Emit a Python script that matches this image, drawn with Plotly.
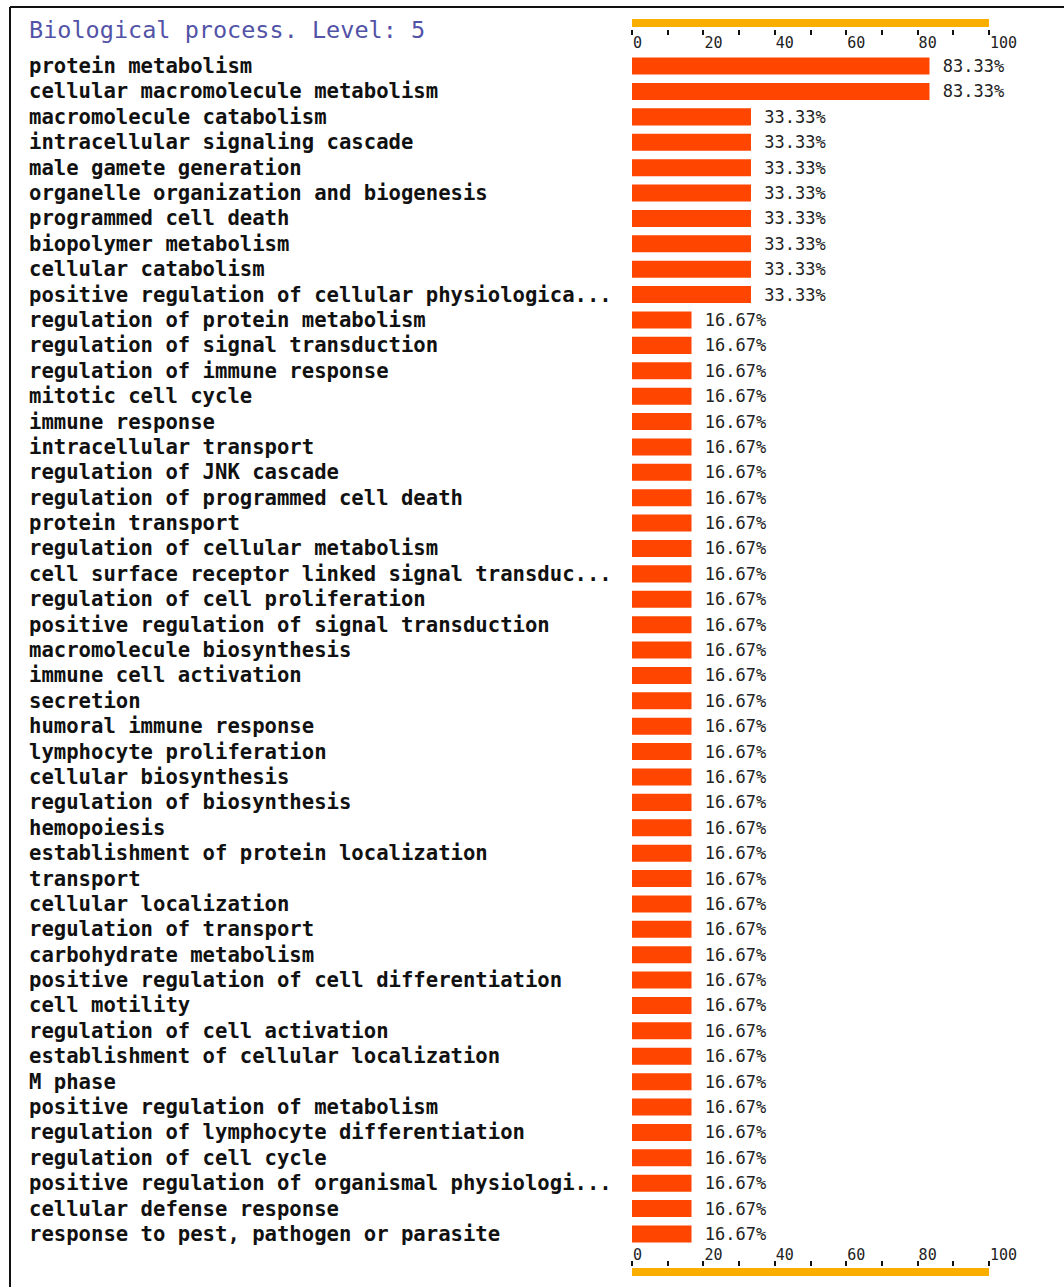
import plotly.graph_objects as go

categories = [
    "protein metabolism",
    "cellular macromolecule metabolism",
    "macromolecule catabolism",
    "intracellular signaling cascade",
    "male gamete generation",
    "organelle organization and biogenesis",
    "programmed cell death",
    "biopolymer metabolism",
    "cellular catabolism",
    "positive regulation of cellular physiologica...",
    "regulation of protein metabolism",
    "regulation of signal transduction",
    "regulation of immune response",
    "mitotic cell cycle",
    "immune response",
    "intracellular transport",
    "regulation of JNK cascade",
    "regulation of programmed cell death",
    "protein transport",
    "regulation of cellular metabolism",
    "cell surface receptor linked signal transduc...",
    "regulation of cell proliferation",
    "positive regulation of signal transduction",
    "macromolecule biosynthesis",
    "immune cell activation",
    "secretion",
    "humoral immune response",
    "lymphocyte proliferation",
    "cellular biosynthesis",
    "regulation of biosynthesis",
    "hemopoiesis",
    "establishment of protein localization",
    "transport",
    "cellular localization",
    "regulation of transport",
    "carbohydrate metabolism",
    "positive regulation of cell differentiation",
    "cell motility",
    "regulation of cell activation",
    "establishment of cellular localization",
    "M phase",
    "positive regulation of metabolism",
    "regulation of lymphocyte differentiation",
    "regulation of cell cycle",
    "positive regulation of organismal physiologi...",
    "cellular defense response",
    "response to pest, pathogen or parasite",
]

values = [
    83.33, 83.33,
    33.33, 33.33, 33.33, 33.33, 33.33, 33.33, 33.33, 33.33,
    16.67, 16.67, 16.67, 16.67, 16.67, 16.67, 16.67, 16.67, 16.67, 16.67,
    16.67, 16.67, 16.67, 16.67, 16.67, 16.67, 16.67, 16.67, 16.67, 16.67,
    16.67, 16.67, 16.67, 16.67, 16.67, 16.67, 16.67, 16.67, 16.67, 16.67,
    16.67, 16.67, 16.67, 16.67, 16.67, 16.67, 16.67,
]

tick_vals = [0, 10, 20, 30, 40, 50, 60, 70, 80, 90, 100]
tick_text = ["0", "", "20", "", "40", "", "60", "", "80", "", "100"]

title_text = "Biological process. Level: 5"

# ---- layout geometry (pixels) ----
W, H = 1064, 1287
L, R, T, B = 632, 75, 27, 19
PW, PH = W - L - R, H - T - B
LABEL_X = 27
BORDER_X, BORDER_Y = 10, 7
TICK_GAP = 2

BAR_COLOR = "#FF4500"
AXIS_COLOR = "#F9AE00"
MONO = "DejaVu Sans Mono"

n = len(categories)

fig = go.Figure()
fig.add_trace(go.Bar(
    x=values,
    y=categories,
    orientation="h",
    marker=dict(color=BAR_COLOR, line=dict(width=0)),
    text=["\u00a0" + f"{v:.2f}%" for v in values],
    textposition="outside",
    constraintext="none",
    cliponaxis=False,
    outsidetextfont=dict(family=MONO, size=17, color="#222222"),
    hoverinfo="x+y",
))
# transparent copies so the extra (bottom line / tick) axes get drawn
for ax in ["x2", "x3", "x4"]:
    fig.add_trace(go.Bar(
        x=values,
        y=categories,
        orientation="h",
        xaxis=ax,
        yaxis="y",
        marker=dict(color="rgba(0,0,0,0)", line=dict(width=0)),
        hoverinfo="skip",
        showlegend=False,
    ))

line_axis = dict(
    range=[0, 100],
    showline=True,
    linecolor=AXIS_COLOR,
    linewidth=8,
    ticks="",
    showticklabels=False,
    showgrid=False,
    zeroline=False,
    fixedrange=True,
)

tick_axis = dict(
    range=[0, 100],
    overlaying="x",
    anchor="free",
    tickmode="array",
    tickvals=tick_vals,
    ticktext=tick_text,
    ticks="outside",
    ticklen=5,
    tickwidth=2,
    tickcolor="#111111",
    ticklabelposition="outside right",
    tickfont=dict(family=MONO, size=15, color="#222222"),
    showline=False,
    showgrid=False,
    zeroline=False,
    fixedrange=True,
)

annotations = []
for cat in categories:
    annotations.append(dict(
        x=0, xref="paper", xanchor="left", xshift=LABEL_X - L,
        y=cat, yref="y", yanchor="middle",
        text=cat, showarrow=False,
        font=dict(family=MONO, size=20.6, color="#111111", weight="bold"),
    ))
annotations.append(dict(
    x=0, xref="paper", xanchor="left", xshift=LABEL_X - L,
    y=1, yref="paper", yanchor="middle", yshift=-3,
    text=title_text, showarrow=False,
    font=dict(family=MONO, size=23.5, color="#5252A6"),
))

bx = (BORDER_X - L) / PW
by = 1 + (T - BORDER_Y) / PH
shapes = [
    dict(type="line", xref="paper", yref="paper", x0=bx, x1=(W - L) / PW + 0.01,
         y0=by, y1=by, line=dict(color="#111111", width=2)),
    dict(type="line", xref="paper", yref="paper", x0=bx, x1=bx,
         y0=by, y1=-(B + 5) / PH, line=dict(color="#111111", width=2)),
]

fig.update_layout(
    width=W, height=H,
    margin=dict(l=L, r=R, t=T, b=B, pad=0),
    paper_bgcolor="white",
    plot_bgcolor="white",
    showlegend=False,
    bargap=0.33,
    barmode="overlay",
    xaxis=dict(side="top", anchor="y", **line_axis),
    xaxis2=dict(side="bottom", anchor="y", overlaying="x", **line_axis),
    xaxis3=dict(side="bottom", position=1 - TICK_GAP / PH, **tick_axis),
    xaxis4=dict(side="top", position=TICK_GAP / PH, **tick_axis),
    yaxis=dict(
        type="category",
        categoryorder="array",
        categoryarray=categories,
        range=[n - 1 + 1.34, -1.54],
        showticklabels=False,
        ticks="",
        showline=False,
        showgrid=False,
        zeroline=False,
        fixedrange=True,
    ),
    annotations=annotations,
    shapes=shapes,
)

fig.write_html(
    "out.html",
    config={"displayModeBar": False},
    post_script="document.body.style.margin='0px';document.body.style.overflow='hidden';",
)
